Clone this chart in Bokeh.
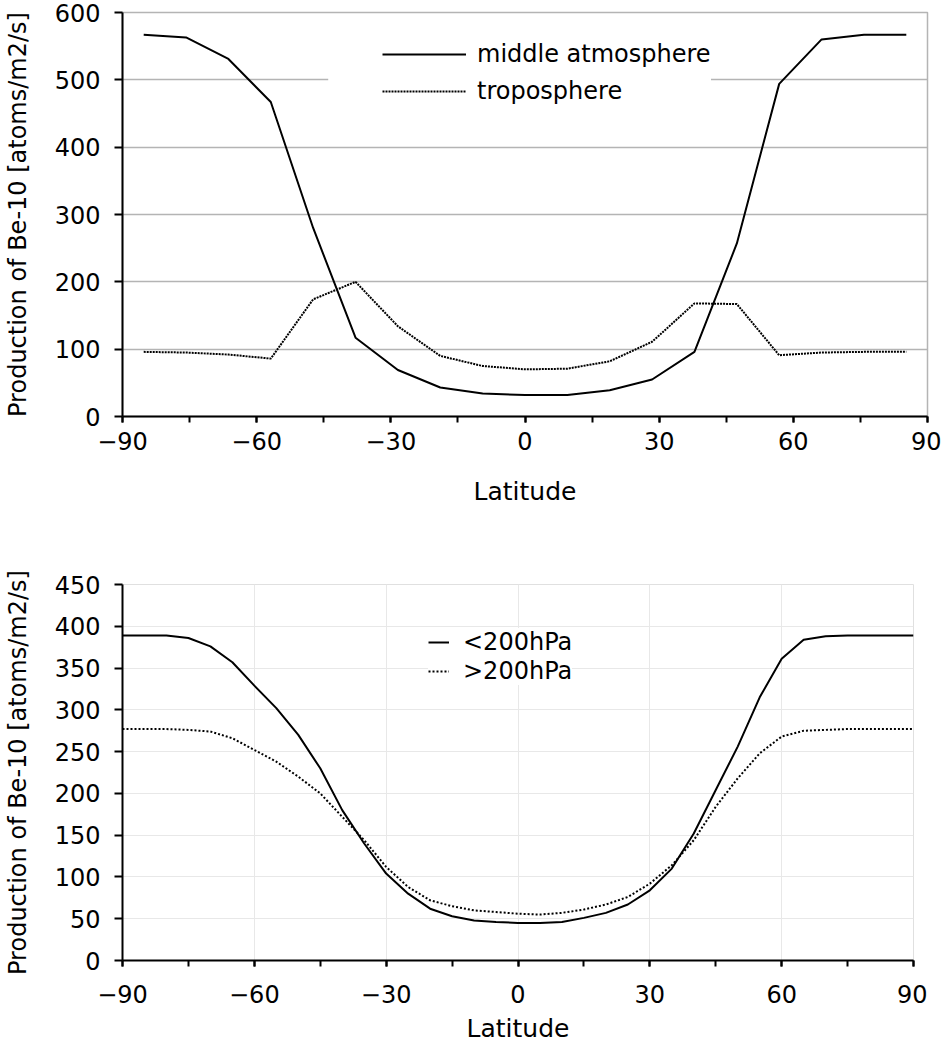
#!/usr/bin/env python3

from bokeh.embed import file_html
from bokeh.layouts import column
from bokeh.models import BoxAnnotation, FixedTicker, Legend, LegendItem
from bokeh.plotting import figure
from bokeh.resources import INLINE

# upper panel: 19 latitude bands
lat_bands = [-85.26, -75.79, -66.32, -56.84, -47.37, -37.89, -28.42, -18.95, -9.47, 0.0,
             9.47, 18.95, 28.42, 37.89, 47.37, 56.84, 66.32, 75.79, 85.26]
middle_atm = [567, 563, 531, 467, 280, 117, 69, 43, 34, 32,
              32, 39, 55, 96, 257, 494, 560, 567, 567]
troposphere = [96, 95, 92, 86, 174, 200, 134, 90, 75, 70,
               71, 82, 111, 168, 167, 91, 95, 96, 96]

# lower panel: every 5 degrees
lat_5deg = list(range(-90, 91, 5))
above_200hpa = [389, 389, 389, 386, 376, 357, 329, 302, 270, 230, 180, 140, 104, 80, 62, 53, 48, 46, 45,
                45, 46, 51, 57, 67, 84, 110, 152, 204, 256, 315, 361, 384, 388, 389, 389, 389, 389]
below_200hpa = [277, 277, 277, 276, 274, 266, 252, 238, 220, 200, 172, 144, 112, 88, 72, 65, 60, 58, 56,
                55, 57, 61, 67, 76, 92, 114, 144, 184, 218, 248, 268, 275, 276, 277, 277, 277, 277]

lat_ticks = [-90, -60, -30, 0, 30, 60, 90]
lat_tick_labels = ["\u221290", "\u221260", "\u221230", "0", "30", "60", "90"]
lat_minor = list(range(-90, 91, 15))
top_yticks = [0, 100, 200, 300, 400, 500, 600]
bottom_yticks = [0, 50, 100, 150, 200, 250, 300, 350, 400, 450]

FONT = "DejaVu Sans"
YLABEL = "Production of Be-10 [atoms/m2/s]"


def style_axes(p, yticks, x_standoff, x_label_standoff):
    p.xaxis.ticker = FixedTicker(ticks=lat_ticks, minor_ticks=lat_minor)
    p.xaxis.major_label_overrides = dict(zip(lat_ticks, lat_tick_labels))
    p.yaxis.ticker = FixedTicker(ticks=yticks, minor_ticks=[])
    p.xaxis.axis_label = "Latitude"
    p.yaxis.axis_label = YLABEL
    for ax in (p.xaxis[0], p.yaxis[0]):
        ax.axis_line_color = "black"
        ax.axis_line_width = 2
        ax.major_tick_line_color = "black"
        ax.major_tick_line_width = 2
        ax.major_tick_in = 0
        ax.minor_tick_in = 0
        ax.major_label_text_font = FONT
        ax.major_label_text_font_size = "24px"
        ax.major_label_text_color = "black"
        ax.axis_label_text_font = FONT
        ax.axis_label_text_font_style = "normal"
        ax.axis_label_text_color = "black"
    p.xaxis.axis_label_text_font_size = "25px"
    p.yaxis.axis_label_text_font_size = "24px"
    p.xaxis.major_tick_out = 6
    p.xaxis.minor_tick_out = 6
    p.xaxis.minor_tick_line_color = "black"
    p.xaxis.minor_tick_line_width = 2
    p.xaxis.major_label_standoff = x_standoff
    p.xaxis.axis_label_standoff = x_label_standoff
    p.yaxis.major_tick_out = 8
    p.yaxis.minor_tick_line_color = None
    p.yaxis.major_label_standoff = 14
    p.yaxis.axis_label_standoff = 20
    p.toolbar.logo = None


# ---- upper chart
p1 = figure(
    width=941, height=516,
    x_range=(-90, 90), y_range=(0, 600),
    min_border_left=121, min_border_right=14, min_border_top=12, min_border_bottom=100,
    output_backend="svg", toolbar_location=None,
)
style_axes(p1, top_yticks, 9, 24)
p1.xgrid.grid_line_color = None
p1.ygrid.grid_line_color = "#b4b4b4"
p1.ygrid.grid_line_width = 1.5
p1.outline_line_color = "#b4b4b4"
p1.outline_line_width = 1.5

r_mid = p1.line(lat_bands, middle_atm, line_color="black", line_width=2)
r_tro = p1.line(lat_bands, troposphere, line_color="black", line_width=2, line_dash="2 1")

# white patch so the legend background reaches further left, as in the original
p1.add_layout(BoxAnnotation(left=-44, right=-30, bottom=455, top=585,
                            fill_color="white", fill_alpha=1.0, line_color=None))

leg1 = Legend(
    items=[LegendItem(label="middle atmosphere", renderers=[r_mid]),
           LegendItem(label="troposphere", renderers=[r_tro])],
    location=(260, 310),
    padding=10, spacing=7, glyph_width=84, glyph_height=30, label_height=30,
    label_standoff=11, label_text_font=FONT, label_text_font_size="24px",
    label_text_color="black",
    border_line_color=None, background_fill_alpha=1.0, margin=0,
)
p1.add_layout(leg1)

# ---- lower chart
p2 = figure(
    width=927, height=532,
    x_range=(-90, 90), y_range=(0, 450),
    min_border_left=121, min_border_right=14, min_border_top=68, min_border_bottom=88,
    output_backend="svg", toolbar_location=None,
)
style_axes(p2, bottom_yticks, 18, 8)
p2.xgrid.grid_line_color = "#e8e8e8"
p2.ygrid.grid_line_color = "#e8e8e8"
p2.xgrid.grid_line_width = 1
p2.ygrid.grid_line_width = 1
p2.outline_line_color = "#e0e0e0"
p2.outline_line_width = 1

r_lt = p2.line(lat_5deg, above_200hpa, line_color="black", line_width=2)
r_gt = p2.line(lat_5deg, below_200hpa, line_color="black", line_width=2, line_dash="2 2")

leg2 = Legend(
    items=[LegendItem(label="<200hPa", renderers=[r_lt]),
           LegendItem(label=">200hPa", renderers=[r_gt])],
    location=(306, 275),
    padding=6, spacing=1, glyph_width=21, glyph_height=28, label_height=28,
    label_standoff=14, label_text_font=FONT, label_text_font_size="24px",
    label_text_color="black",
    border_line_color=None, background_fill_alpha=1.0, margin=0,
)
p2.add_layout(leg2)

layout = column(p1, p2)
open("out.html", "w").write(file_html(layout, INLINE))
